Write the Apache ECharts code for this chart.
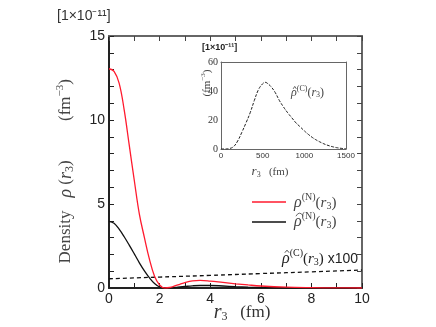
<!DOCTYPE html>
<html>
<head>
<meta charset="utf-8">
<script src="https://cdn.jsdelivr.net/npm/echarts@6/dist/echarts.min.js"></script>
<style>
  html, body { margin: 0; padding: 0; background: #fff; }
  #densityChart { width: 436px; height: 327px; }
</style>
</head>
<body>
<div id="densityChart"></div>
<script>
// main panel (units of 1e-11 fm^-3)
var rMain = [0, 0.2, 0.4, 0.6, 0.8, 1.0, 1.2, 1.4, 1.6, 1.8, 2.0, 2.2, 2.4, 2.6, 2.8, 3.0, 3.3, 3.6, 4.0, 4.5, 5.0, 5.5, 6.0, 7.0, 8.0, 9.0, 10.0];
var rhoN = [13.05, 12.9, 12.2, 10.6, 8.5, 6.4, 4.4, 3.0, 1.7, 0.7, 0.18, 0.0, 0.03, 0.12, 0.22, 0.32, 0.42, 0.45, 0.41, 0.33, 0.25, 0.18, 0.12, 0.05, 0.02, 0.005, 0.0];
var rhoNhat = [3.97, 3.85, 3.5, 3.05, 2.55, 2.03, 1.5, 1.02, 0.6, 0.27, 0.06, 0.0, 0.01, 0.03, 0.06, 0.09, 0.13, 0.15, 0.15, 0.12, 0.08, 0.05, 0.03, 0.01, 0.005, 0.0, 0.0];
var rDashed = [0, 2, 4, 6, 8, 10];
var rhoCx100 = [0.55, 0.65, 0.75, 0.86, 0.96, 1.07];
// inset panel
var rInset = [0, 50, 100, 150, 200, 250, 300, 350, 400, 450, 500, 530, 550, 600, 650, 700, 750, 800, 850, 900, 950, 1000, 1050, 1100, 1150, 1200, 1250, 1300, 1350, 1400, 1450, 1500];
var rhoC = [0, 0, 0.3, 1.6, 5.5, 11.5, 18, 25, 33.5, 41, 45, 46, 45.6, 43, 39, 33.5, 29, 25, 21.5, 18, 15.3, 12.5, 10, 7.8, 6, 4.5, 3.2, 2.2, 1.4, 0.8, 0.4, 0.2];
var xTicksMain = [0, 2, 4, 6, 8, 10];
var yTicksMain = [0, 5, 10, 15];

function pairs(xs, ys) {
    var out = [];
    for (var i = 0; i < xs.length; i++) { out.push([xs[i], ys[i]]); }
    return out;
}

var serif = '"Liberation Serif", "DejaVu Serif", serif';
var sans = '"Liberation Sans", Arial, sans-serif';
var ctx = document.createElement('canvas').getContext('2d');

// lays out pieces of a formula side by side: [text, size, italic, dy, family, hat]
function mathGroup(x, y, segs, opts) {
    opts = opts || {};
    var children = [], cx = 0, hats = [];
    segs.forEach(function (s) {
        var font = (s[2] ? 'italic ' : '') + s[1] + 'px ' + (s[4] || serif);
        ctx.font = font;
        var w = ctx.measureText(s[0]).width;
        children.push({ type: 'text', x: cx, y: s[3] || 0,
            style: { text: s[0], font: font, fill: opts.color || '#444', verticalAlign: 'middle' } });
        if (s[5]) { hats.push([cx, w, s[1], s[5]]); }
        cx += w;
    });
    hats.forEach(function (h) {
        var x0 = h[0] + h[2] * 0.12, w = h[1] * (h[3] === 'wide' ? 0.95 : 0.8), top = -h[2] * 0.55;
        children.push({ type: 'polyline',
            shape: { points: h[3] === 'wide'
                ? [[x0, top + 3], [x0 + w * 0.25, top + 0.6], [x0 + w * 0.5, top], [x0 + w * 0.75, top + 0.6], [x0 + w, top + 3]]
                : [[x0 + w * 0.15, top + 2.5], [x0 + w * 0.5, top], [x0 + w * 0.85, top + 2.5]] },
            style: { stroke: opts.color || '#444', lineWidth: 0.8, fill: null } });
    });
    var shift = opts.align === 'center' ? -cx / 2 : 0;
    children.forEach(function (c) {
        if (c.type === 'text') { c.x += shift; }
        else { c.shape.points.forEach(function (p) { p[0] += shift; }); }
    });
    return { type: 'group', x: x, y: y, rotation: opts.rotation || 0, z: 10, children: children };
}

var up = Math.PI / 2;

var option = {
    animation: false,
    backgroundColor: '#fff',
    grid: [
        { left: 109, top: 36, width: 253, height: 252 },
        { left: 221, top: 62, width: 125, height: 87 }
    ],
    xAxis: [
        {   // bottom
            type: 'value', gridIndex: 0, min: 0, max: 10, interval: 1,
            axisLine: { onZero: false, lineStyle: { color: '#222', width: 2 } },
            axisTick: { inside: true, length: 5, lineStyle: { color: '#222' } },
            axisLabel: { color: '#222', fontSize: 14, fontFamily: sans, margin: 4,
                formatter: function (v) { return xTicksMain.indexOf(v) >= 0 ? String(v) : ''; } },
            splitLine: { show: false }
        },
        {   // top frame
            type: 'value', gridIndex: 0, position: 'top', min: 0, max: 10, interval: 1,
            axisLine: { onZero: false, lineStyle: { color: '#666', width: 2 } },
            axisTick: { inside: true, length: 5, lineStyle: { color: '#444' } },
            axisLabel: { show: false }, splitLine: { show: false }
        },
        {   // inset bottom
            type: 'value', gridIndex: 1, min: 0, max: 1500, interval: 500,
            axisLine: { onZero: false, lineStyle: { color: '#666', width: 1 } },
            axisTick: { show: false },
            axisLabel: { color: '#333', fontSize: 8, fontFamily: sans, margin: 3,
                formatter: function (v) { return String(v); } },
            splitLine: { show: false }
        },
        {   // inset top
            type: 'value', gridIndex: 1, position: 'top', min: 0, max: 1500,
            axisLine: { onZero: false, lineStyle: { color: '#666', width: 1 } },
            axisTick: { show: false }, axisLabel: { show: false }, splitLine: { show: false }
        }
    ],
    yAxis: [
        {   // left
            type: 'value', gridIndex: 0, min: 0, max: 15, interval: 1,
            axisLine: { show: true, onZero: false, lineStyle: { color: '#222', width: 2 } },
            axisTick: { show: true, inside: true, length: 5, lineStyle: { color: '#222' } },
            axisLabel: { color: '#222', fontSize: 14, fontFamily: sans, margin: 4,
                formatter: function (v) { return yTicksMain.indexOf(v) >= 0 ? String(v) : ''; } },
            splitLine: { show: false }
        },
        {   // right frame
            type: 'value', gridIndex: 0, position: 'right', min: 0, max: 15, interval: 1,
            axisLine: { show: true, onZero: false, lineStyle: { color: '#666', width: 2 } },
            axisTick: { show: true, inside: true, length: 5, lineStyle: { color: '#444' } },
            axisLabel: { show: false }, splitLine: { show: false }
        },
        {   // inset left
            type: 'value', gridIndex: 1, min: 0, max: 60, interval: 20,
            axisLine: { show: true, onZero: false, lineStyle: { color: '#666', width: 1 } },
            axisTick: { show: false },
            axisLabel: { color: '#333', fontSize: 10, fontFamily: serif, margin: 3 },
            splitLine: { show: false }
        },
        {   // inset right
            type: 'value', gridIndex: 1, position: 'right', min: 0, max: 60,
            axisLine: { show: true, onZero: false, lineStyle: { color: '#666', width: 1 } },
            axisTick: { show: false }, axisLabel: { show: false }, splitLine: { show: false }
        }
    ],
    series: [
        {
            name: 'rhoCx100', type: 'line', xAxisIndex: 0, yAxisIndex: 0,
            data: pairs(rDashed, rhoCx100), showSymbol: false, smooth: true,
            lineStyle: { color: '#111', width: 1.3, type: [4, 3] }, z: 3
        },
        {
            name: 'rhoNhat', type: 'line', xAxisIndex: 0, yAxisIndex: 0,
            data: pairs(rMain, rhoNhat), showSymbol: false, smooth: 0.4,
            lineStyle: { color: '#111', width: 1.3 }, z: 4
        },
        {
            name: 'rhoN', type: 'line', xAxisIndex: 0, yAxisIndex: 0,
            data: pairs(rMain, rhoN), showSymbol: false, smooth: 0.4,
            lineStyle: { color: '#ff1a2e', width: 1.3 }, z: 5
        },
        {
            name: 'rhoC', type: 'line', xAxisIndex: 2, yAxisIndex: 2,
            data: pairs(rInset, rhoC), showSymbol: false, smooth: 0.4,
            lineStyle: { color: '#222', width: 1, type: [3, 1.5] }, z: 6
        }
    ],
    graphic: [
        // inset white background
        { type: 'rect', shape: { x: 221, y: 62, width: 125, height: 87 }, style: { fill: '#fff' }, z: -1 },
        { type: 'text', left: 57, top: 9, style: { text: '[1×10⁻¹¹]', font: '14px ' + sans, fill: '#333' } },
        // y axis title, three pieces
        mathGroup(66, 237, [['Density', 17]], { align: 'center', rotation: up }),
        mathGroup(66, 179, [['ρ', 18, true], [' (', 17], ['r', 18, true], ['3', 12, false, 4], [')', 17]], { align: 'center', rotation: up }),
        mathGroup(66, 100, [['(fm', 17], ['−3', 11, false, -6], [')', 17]], { align: 'center', rotation: up }),
        mathGroup(242, 313, [['r', 20, true], ['3', 12, false, 4], ['   (fm)', 17]], { align: 'center', color: '#333' }),
        // legend
        { type: 'line', shape: { x1: 252, y1: 202, x2: 286, y2: 202 }, style: { stroke: '#ff1a2e', lineWidth: 1.3 }, z: 10 },
        { type: 'line', shape: { x1: 252, y1: 222, x2: 286, y2: 222 }, style: { stroke: '#111', lineWidth: 1.3 }, z: 10 },
        mathGroup(294, 203, [['ρ', 16, true], ['(N)', 10, false, -6], ['(', 15], ['r', 15, true], ['3', 10, false, 3], [')', 15]]),
        mathGroup(294, 222, [['ρ', 16, true, 0, serif, 'wide'], ['(N)', 10, false, -6], ['(', 15], ['r', 15, true], ['3', 10, false, 3], [')', 15]]),
        mathGroup(282, 259, [['ρ', 16, true, 0, serif, 'hat'], ['(C)', 10, false, -6], ['(', 15], ['r', 15, true], ['3', 10, false, 3], [')', 15],
            [' x100', 14, false, 0, sans]], { color: '#222' }),
        // inset texts
        { type: 'text', x: 202, y: 48, z: 10,
          style: { text: '[1×10⁻¹¹]', font: 'bold 9px ' + sans, fill: '#222', verticalAlign: 'middle' } },
        mathGroup(207, 83, [['(fm', 11], ['−3', 7, false, -4], [')', 11]], { align: 'center', rotation: up }),
        mathGroup(291, 93, [['ρ', 12, true, 0, serif, 'hat'], ['(C)', 8, false, -4], ['(', 12], ['r', 12, true], ['3', 8, false, 2], [')', 12]]),
        mathGroup(270, 172, [['r', 13, true], ['3', 8, false, 3], ['   (fm)', 11]], { align: 'center' })
    ]
};
echarts.init(document.getElementById('densityChart')).setOption(option);
</script>
</body>
</html>
